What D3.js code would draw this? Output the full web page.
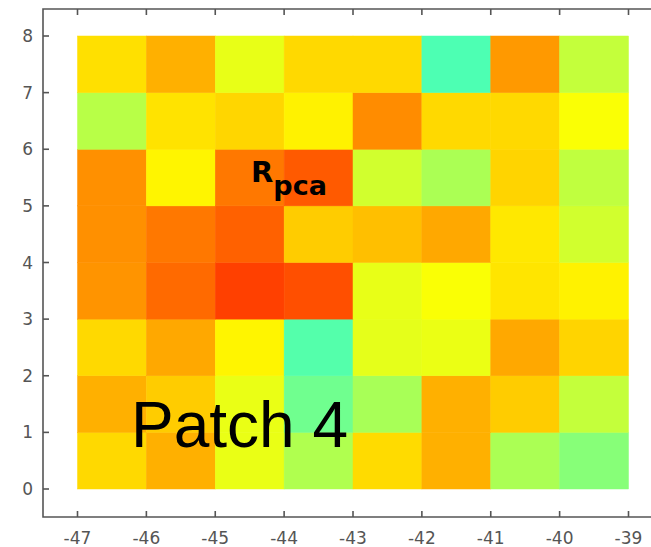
<!DOCTYPE html>
<html>
<head>
<meta charset="utf-8">
<script src="https://cdn.jsdelivr.net/npm/d3@7"></script>
<style>
  html, body { margin: 0; padding: 0; background: #fff; }
  svg { display: block; }
</style>
</head>
<body>
<svg id="chart" width="651" height="547"></svg>
<script>
// Grid edges along each axis
const xEdges = [-47, -46, -45, -44, -43, -42, -41, -40, -39];
const yEdges = [0, 1, 2, 3, 4, 5, 6, 7, 8];

// Cell values on a 0..1 jet scale, one row per y band (top band first),
// one entry per x band from -47 to -40
const row7 = [0.655, 0.7025, 0.6025, 0.6625, 0.6625, 0.45, 0.725, 0.5675];
const row6 = [0.555, 0.6525, 0.665, 0.6375, 0.7375, 0.6625, 0.6625, 0.62];
const row5 = [0.734, 0.635, 0.7575, 0.787, 0.58, 0.5425, 0.6675, 0.5637];
const row4 = [0.734, 0.7575, 0.78, 0.675, 0.6875, 0.71, 0.6475, 0.58];
const row3 = [0.73, 0.771, 0.8125, 0.7975, 0.6025, 0.62, 0.65, 0.6375];
const row2 = [0.6625, 0.71, 0.635, 0.4575, 0.60, 0.605, 0.71, 0.6675];
const row1 = [0.7025, 0.675, 0.604, 0.485, 0.54, 0.7025, 0.675, 0.5675];
const row0 = [0.6625, 0.7025, 0.604, 0.5475, 0.66, 0.7025, 0.5425, 0.5075];
const rows = [row0, row1, row2, row3, row4, row5, row6, row7]; // indexed by y band

// Tick labels
const xTicks = [-47, -46, -45, -44, -43, -42, -41, -40, -39];
const yTicks = [0, 1, 2, 3, 4, 5, 6, 7, 8];

const svg = d3.select("#chart");

const x = d3.scaleLinear().domain([-47, -39]).range([77.5, 628.5]);
const y = d3.scaleLinear().domain([0, 8]).range([489, 36]);

// Jet colour map (piecewise linear in RGB)
const jet = d3.scaleLinear()
  .domain([0, 0.125, 0.375, 0.625, 0.875, 1])
  .range(["#000080", "#0000ff", "#00ffff", "#ffff00", "#ff0000", "#800000"])
  .interpolate(d3.interpolateRgb)
  .clamp(true);

// Cells
const cells = [];
rows.forEach((vals, j) => {
  vals.forEach((v, i) => {
    cells.push({ x0: xEdges[i], x1: xEdges[i + 1], y0: yEdges[j], y1: yEdges[j + 1], v });
  });
});

svg.append("g")
  .selectAll("rect")
  .data(cells)
  .join("rect")
  .attr("x", d => x(d.x0))
  .attr("y", d => y(d.y1))
  .attr("width", d => x(d.x1) - x(d.x0))
  .attr("height", d => y(d.y0) - y(d.y1))
  .attr("fill", d => jet(d.v))
  .attr("stroke", d => jet(d.v))
  .attr("stroke-width", 0.5);

// Frame
const axisColor = "#555";
const frame = { left: 43, top: 9, bottom: 517, right: 700 };
svg.append("path")
  .attr("d", `M${frame.right},${frame.top}H${frame.left}V${frame.bottom}H${frame.right}`)
  .attr("fill", "none")
  .attr("stroke", axisColor)
  .attr("stroke-width", 1.6);

// Inward ticks on top and bottom
const tickLen = 6;
const tg = svg.append("g").attr("stroke", axisColor).attr("stroke-width", 1.6);
xTicks.forEach(t => {
  tg.append("line").attr("x1", x(t)).attr("x2", x(t)).attr("y1", frame.top).attr("y2", frame.top + tickLen);
  tg.append("line").attr("x1", x(t)).attr("x2", x(t)).attr("y1", frame.bottom).attr("y2", frame.bottom - tickLen);
});
yTicks.forEach(t => {
  tg.append("line").attr("x1", frame.left).attr("x2", frame.left + tickLen).attr("y1", y(t)).attr("y2", y(t));
});

// Tick labels
const labelFont = "'DejaVu Sans', sans-serif";
svg.append("g")
  .selectAll("text")
  .data(xTicks)
  .join("text")
  .attr("x", d => x(d))
  .attr("y", 544)
  .attr("text-anchor", "middle")
  .attr("font-family", labelFont)
  .attr("font-size", 17)
  .attr("fill", "#555")
  .text(d => d);

svg.append("g")
  .selectAll("text")
  .data(yTicks)
  .join("text")
  .attr("x", 33)
  .attr("y", d => y(d))
  .attr("dy", "0.36em")
  .attr("text-anchor", "end")
  .attr("font-family", labelFont)
  .attr("font-size", 17)
  .attr("fill", "#555")
  .text(d => d);

// Annotations
const rLabel = svg.append("text")
  .attr("x", 251)
  .attr("y", 182)
  .attr("font-family", "'DejaVu Sans', sans-serif")
  .attr("font-weight", "bold")
  .attr("font-size", 29)
  .attr("fill", "#000");
rLabel.append("tspan").text("R");
rLabel.append("tspan").attr("dy", 13).attr("font-size", 27).text("pca");

svg.append("text")
  .attr("x", 131)
  .attr("y", 447)
  .attr("font-family", "'Liberation Sans', Arial, sans-serif")
  .attr("font-size", 64)
  .attr("fill", "#000")
  .text("Patch 4");
</script>
</body>
</html>
